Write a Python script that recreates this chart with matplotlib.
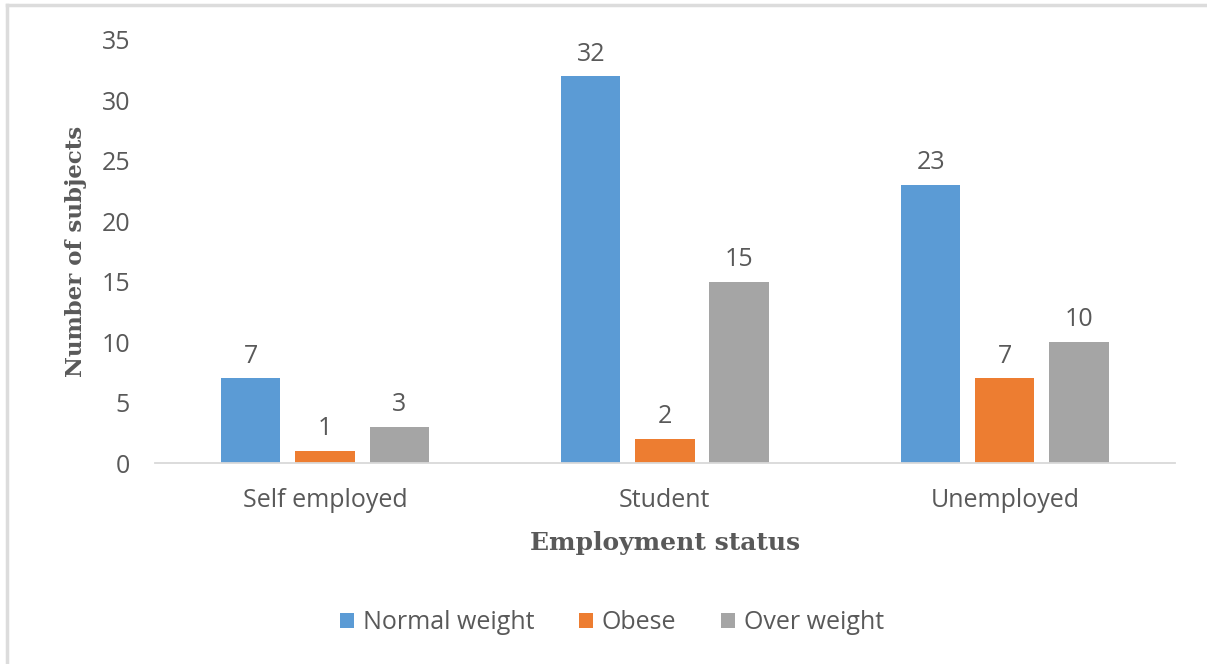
import numpy as np
import matplotlib.pyplot as plt
from matplotlib.lines import Line2D

plt.rcParams['font.family'] = ['Open Sans', 'DejaVu Sans']

# 数据
categories = ['Self employed', 'Student', 'Unemployed']
series_names = ['Normal weight', 'Obese', 'Over weight']
normal_weight = [7, 32, 23]
obese = [1, 2, 7]
over_weight = [3, 15, 10]
colors = ['#5B9BD5', '#ED7D31', '#A5A5A5']
text_color = '#595959'

fig = plt.figure(figsize=(12.07, 6.64), dpi=100)
ax = fig.add_axes([0.1284, 0.3027, 0.845, 0.6371])

x = np.arange(len(categories))
width = 0.174
step = 0.218
for i, (vals, name) in enumerate(zip([normal_weight, obese, over_weight], series_names)):
    pos = x + (i - 1) * step
    bars = ax.bar(pos, vals, width, color=colors[i], label=name, zorder=2)
    for b, v in zip(bars, vals):
        ax.annotate(str(v), (b.get_x() + b.get_width() / 2, v),
                    xytext=(0, 7), textcoords='offset points',
                    ha='center', va='bottom', fontsize=18, color=text_color)

ax.set_xlim(-0.5, 2.5)
ax.set_ylim(0, 35)
ax.set_yticks(range(0, 36, 5))
ax.set_xticks(x)
ax.set_xticklabels(categories)
ax.tick_params(axis='both', length=0, labelsize=18, labelcolor=text_color)
ax.tick_params(axis='y', pad=18)
ax.tick_params(axis='x', pad=18)

for s in ['top', 'right', 'left']:
    ax.spines[s].set_visible(False)
ax.spines['bottom'].set_color('#D9D9D9')
ax.spines['bottom'].set_linewidth(1.3)

ax.set_xlabel('Employment status', family='DejaVu Serif', fontweight='bold',
              fontsize=18, color=text_color, labelpad=13)
ax.set_ylabel('Number of subjects', family='DejaVu Serif', fontweight='bold',
              fontsize=16.5, color=text_color, labelpad=10)

ax.legend(loc='center', bbox_to_anchor=(0.507, 0.062), bbox_transform=fig.transFigure,
          ncol=3, frameon=False, fontsize=18, handlelength=0.55, handleheight=0.55,
          handletextpad=0.35, columnspacing=1.8, labelcolor=text_color)

# 外框
fig.add_artist(Line2D([0.0054, 0.0054], [0.0, 0.9925], color='#DCDCDC', lw=2.5,
                      transform=fig.transFigure))
fig.add_artist(Line2D([0.0054, 1.0], [0.9925, 0.9925], color='#DCDCDC', lw=2.5,
                      transform=fig.transFigure))

fig.savefig('out.png', dpi=100)
